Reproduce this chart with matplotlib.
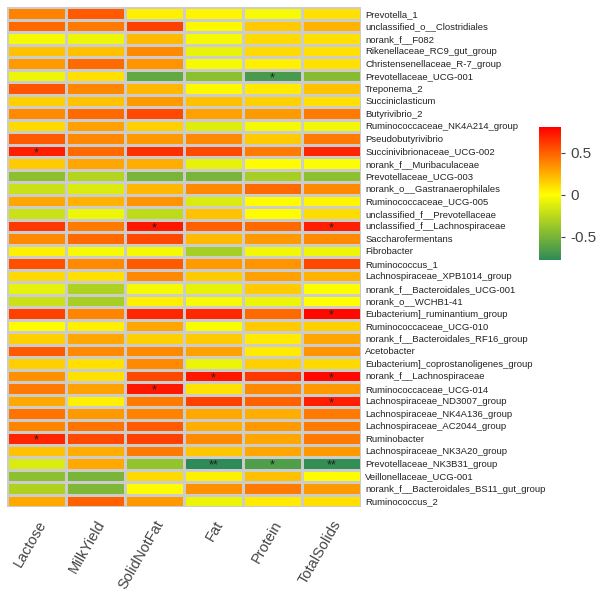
import numpy as np
import matplotlib.pyplot as plt
from matplotlib.colors import LinearSegmentedColormap

plt.rcParams['font.family'] = ['Liberation Sans', 'DejaVu Sans']

traits = ['Lactose', 'MilkYield', 'SolidNotFat', 'Fat', 'Protein', 'TotalSolids']

genera = [
    'Prevotella_1', 'unclassified_o__Clostridiales', 'norank_f__F082',
    'Rikenellaceae_RC9_gut_group', 'Christensenellaceae_R-7_group',
    'Prevotellaceae_UCG-001', 'Treponema_2', 'Succiniclasticum', 'Butyrivibrio_2',
    'Ruminococcaceae_NK4A214_group', 'Pseudobutyrivibrio',
    'Succinivibrionaceae_UCG-002', 'norank_f__Muribaculaceae',
    'Prevotellaceae_UCG-003', 'norank_o__Gastranaerophilales',
    'Ruminococcaceae_UCG-005', 'unclassified_f__Prevotellaceae',
    'unclassified_f__Lachnospiraceae', 'Saccharofermentans', 'Fibrobacter',
    'Ruminococcus_1', 'Lachnospiraceae_XPB1014_group',
    'norank_f__Bacteroidales_UCG-001', 'norank_o__WCHB1-41',
    'Eubacterium]_ruminantium_group', 'Ruminococcaceae_UCG-010',
    'norank_f__Bacteroidales_RF16_group', 'Acetobacter',
    'Eubacterium]_coprostanoligenes_group', 'norank_f__Lachnospiraceae',
    'Ruminococcaceae_UCG-014', 'Lachnospiraceae_ND3007_group',
    'Lachnospiraceae_NK4A136_group', 'Lachnospiraceae_AC2044_group',
    'Ruminobacter', 'Lachnospiraceae_NK3A20_group',
    'Prevotellaceae_NK3B31_group', 'Veillonellaceae_UCG-001',
    'norank_f__Bacteroidales_BS11_gut_group', 'Ruminococcus_2',
]

# correlation values (rows = genera, columns = traits)
corr = np.array([
    [0.40, 0.52, 0.05, 0.03, -0.03, 0.10],
    [0.47, 0.42, 0.60, 0.02, 0.17, 0.24],
    [-0.04, -0.06, 0.22, -0.04, 0.12, 0.10],
    [0.19, 0.20, 0.37, -0.08, 0.12, 0.10],
    [0.32, 0.47, 0.34, -0.03, 0.05, 0.10],
    [-0.06, 0.10, -0.58, -0.42, -0.68, -0.45],
    [0.54, 0.38, 0.23, 0.02, 0.07, 0.19],
    [0.15, 0.19, 0.32, 0.20, 0.15, 0.10],
    [0.37, 0.47, 0.58, 0.30, 0.32, 0.42],
    [0.12, 0.30, 0.15, -0.12, -0.04, -0.05],
    [0.52, 0.37, 0.32, 0.37, 0.17, 0.42],
    [0.71, 0.47, 0.66, 0.58, 0.42, 0.69],
    [0.17, 0.28, 0.26, -0.09, 0.01, -0.01],
    [-0.42, -0.28, -0.50, -0.50, -0.33, -0.42],
    [-0.20, -0.14, 0.23, 0.37, 0.47, 0.37],
    [0.28, 0.24, 0.34, -0.14, 0.01, 0.03],
    [-0.20, -0.06, -0.24, 0.19, 0.01, 0.11],
    [0.63, 0.42, 0.73, 0.50, 0.47, 0.71],
    [0.37, 0.47, 0.58, 0.22, 0.32, 0.37],
    [0.05, -0.03, -0.04, -0.33, -0.05, -0.06],
    [0.55, 0.37, 0.52, 0.32, 0.34, 0.58],
    [0.12, 0.10, 0.37, 0.17, 0.30, 0.24],
    [-0.09, -0.30, -0.04, -0.09, 0.17, -0.01],
    [-0.20, -0.33, 0.05, -0.03, -0.07, 0.00],
    [0.60, 0.39, 0.68, 0.68, 0.47, 0.78],
    [0.01, 0.05, 0.28, -0.02, 0.17, 0.15],
    [0.15, 0.28, 0.15, 0.17, 0.07, 0.28],
    [0.52, 0.37, 0.37, 0.30, 0.07, 0.34],
    [0.15, 0.10, 0.37, -0.07, 0.15, 0.12],
    [0.35, 0.10, 0.58, 0.73, 0.63, 0.78],
    [0.42, 0.30, 0.73, 0.09, 0.37, 0.32],
    [0.27, 0.05, 0.42, 0.60, 0.50, 0.71],
    [0.44, 0.32, 0.40, 0.27, 0.26, 0.42],
    [0.39, 0.44, 0.52, 0.26, 0.32, 0.42],
    [0.69, 0.58, 0.60, 0.37, 0.28, 0.42],
    [0.19, 0.26, 0.42, 0.18, 0.28, 0.32],
    [-0.14, 0.27, -0.40, -0.78, -0.65, -0.76],
    [-0.42, -0.50, 0.12, 0.05, 0.20, 0.01],
    [-0.30, -0.48, 0.01, 0.35, 0.42, 0.32],
    [0.27, 0.50, 0.32, -0.07, 0.07, 0.10],
])

# significance marks
signif = {
    (5, 4): '*', (11, 0): '*', (17, 2): '*', (17, 5): '*', (24, 5): '*',
    (29, 3): '*', (29, 5): '*', (30, 2): '*', (31, 5): '*', (34, 0): '*',
    (36, 3): '**', (36, 4): '*', (36, 5): '**',
}

vmin, vmax = -0.78, 0.81
mid = -vmin / (vmax - vmin)
cmap = LinearSegmentedColormap.from_list(
    'gyr', [(0, '#2E8B57'), (mid, '#FFFF00'), (1, '#FF0000')])

fig = plt.figure(figsize=(5.97, 6.0), dpi=100)
ax = fig.add_axes([7 / 597, 93 / 600, 354 / 597, 500 / 600])
mesh = ax.pcolormesh(corr, cmap=cmap, vmin=vmin, vmax=vmax,
                     edgecolors='#CCCCCC', linewidth=1.0)
ax.set_xlim(0, len(traits))
ax.set_ylim(len(genera), 0)
for s in ax.spines.values():
    s.set_visible(False)

for (r, c), mark in signif.items():
    ax.text(c + 0.5, r + 0.68, mark, ha='center', va='center',
            fontsize=9, color='#222222')

ax.yaxis.tick_right()
ax.set_yticks(np.arange(len(genera)) + 0.5)
ax.set_yticklabels(genera, fontsize=6.8, color='#222222')
ax.set_xticks(np.arange(len(traits)) + 0.5)
ax.set_xticklabels(traits, rotation=60, ha='right', va='top',
                   rotation_mode='anchor', fontsize=10.5, color='#444444')
ax.tick_params(length=0, pad=3)
ax.tick_params(axis='x', pad=8)

cax = fig.add_axes([539 / 597, (600 - 260) / 600, 22 / 597, 133 / 600])
cb = fig.colorbar(mesh, cax=cax, ticks=[-0.5, 0, 0.5])
cb.outline.set_visible(False)
cb.ax.set_yticklabels(['-0.5', '0', '0.5'])
cb.ax.tick_params(labelsize=11, colors='#444444', length=3, width=0.8)

fig.savefig('out.png', dpi=100)
